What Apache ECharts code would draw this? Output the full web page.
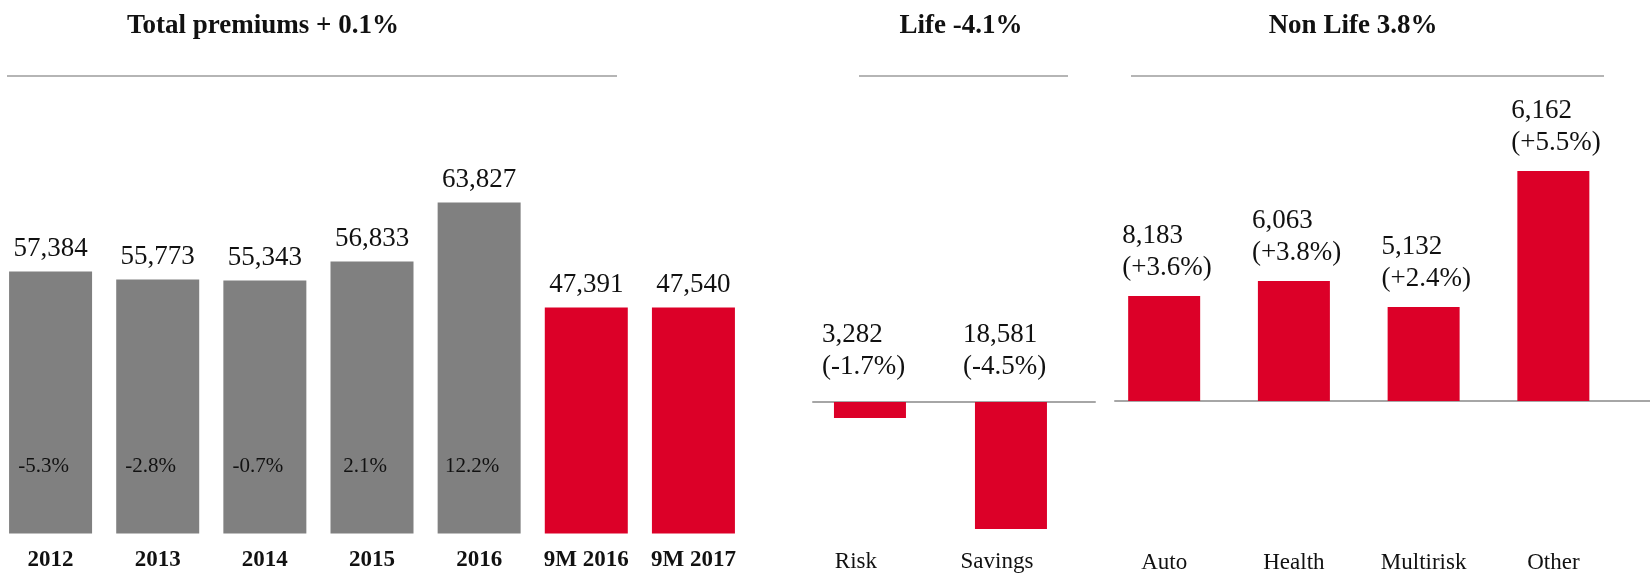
<!DOCTYPE html>
<html>
<head>
<meta charset="utf-8">
<script src="https://cdn.jsdelivr.net/npm/echarts@6/dist/echarts.min.js"></script>
<style>
html, body { margin: 0; padding: 0; background: #fff; }
#chart { width: 1650px; height: 575px; }
</style>
</head>
<body>
<div id="chart"></div>
<script>
const totalYears = ['2012', '2013', '2014', '2015', '2016', '9M 2016', '9M 2017'];
const totalPremiums = [57384, 55773, 55343, 56833, 63827, 47391, 47540];
const totalGrowth = [-5.3, -2.8, -0.7, 2.1, 12.2, null, null];
// bar heights as drawn in the picture (the infographic is not to scale)
const totalBarHeight = [262, 254, 253, 272, 331, 226, 226];

const lifeLines = ['Risk', 'Savings'];
const lifePremiums = [3282, 18581];
const lifeGrowth = [-1.7, -4.5];
const lifeBarHeight = [-16, -127];

const nonLifeLines = ['Auto', 'Health', 'Multirisk', 'Other'];
const nonLifePremiums = [8183, 6063, 5132, 6162];
const nonLifeGrowth = [3.6, 3.8, 2.4, 5.5];
const nonLifeBarHeight = [105, 120, 94, 230];

const GREY = '#808080';
const RED = '#dc0028';
const INK = '#111';
const FONT = '"Liberation Serif", "DejaVu Serif", serif';

function fmt(v) {
    return v.toLocaleString('en-US');
}

function pct(v, sign) {
    return (sign && v > 0 ? '+' : '') + v.toFixed(1) + '%';
}

function twoLines(values, growth) {
    return p => fmt(values[p.dataIndex]) + '\n(' + pct(growth[p.dataIndex], true) + ')';
}

const chart = echarts.init(document.getElementById('chart'));
chart.setOption({
    animation: false,
    textStyle: { fontFamily: FONT, color: INK },
    grid: [
        { left: -3, top: 193.5, width: 750, height: 340, outerBoundsMode: 'none' },
        { left: 813, top: 402, width: 282, height: 140, outerBoundsMode: 'none' },
        { left: 1115, top: 161, width: 535, height: 240, outerBoundsMode: 'none' }
    ],
    xAxis: [
        {
            type: 'category', gridIndex: 0, data: totalYears,
            axisLine: { show: false }, axisTick: { show: false },
            axisLabel: { interval: 0, fontFamily: FONT, fontWeight: 'bold', fontSize: 23, color: INK, margin: 15 }
        },
        {
            // line sits on zero (top of this grid), labels are laid out from the grid bottom
            type: 'value', gridIndex: 1, min: -0.404, max: 1.596,
            splitLine: { show: false }, axisTick: { show: false },
            axisLine: { show: true, lineStyle: { color: '#a6a6a6', width: 2 } },
            axisLabel: {
                customValues: [0, 1], formatter: v => lifeLines[v],
                fontFamily: FONT, fontSize: 23, color: INK, margin: 8, padding: [0, 28, 0, 0]
            }
        },
        {
            type: 'value', gridIndex: 2, min: -0.379, max: 3.745,
            splitLine: { show: false }, axisTick: { show: false },
            axisLine: { show: true, lineStyle: { color: '#a6a6a6', width: 2 } },
            axisLabel: {
                customValues: [0, 1, 2, 3], formatter: v => nonLifeLines[v],
                fontFamily: FONT, fontSize: 23, color: INK, margin: 150
            }
        }
    ],
    yAxis: [
        { type: 'value', gridIndex: 0, min: 0, max: 340, show: false },
        { type: 'value', gridIndex: 1, min: -140, max: 0, show: false },
        { type: 'value', gridIndex: 2, min: 0, max: 240, show: false }
    ],
    series: [
        {
            type: 'bar', xAxisIndex: 0, yAxisIndex: 0,
            data: totalBarHeight, barWidth: 83, barGap: '-100%',
            itemStyle: { color: p => p.name.indexOf('9M') === 0 ? RED : GREY },
            label: {
                show: true, position: 'top', distance: 9,
                fontFamily: FONT, fontSize: 27, color: INK,
                formatter: p => fmt(totalPremiums[p.dataIndex])
            }
        },
        {
            type: 'bar', xAxisIndex: 0, yAxisIndex: 0, silent: true,
            data: totalBarHeight, barWidth: 83, barGap: '-100%',
            itemStyle: { color: 'rgba(0,0,0,0)' },
            label: {
                show: true, position: 'insideBottom', distance: 57, offset: [-7, 0],
                fontFamily: FONT, fontSize: 21, color: INK,
                formatter: p => totalGrowth[p.dataIndex] == null ? '' : pct(totalGrowth[p.dataIndex], false)
            }
        },
        {
            type: 'bar', xAxisIndex: 1, yAxisIndex: 1,
            data: lifeBarHeight.map((h, i) => [i, h]), barWidth: 72,
            itemStyle: { color: RED }
        },
        {
            type: 'scatter', xAxisIndex: 1, yAxisIndex: 1, silent: true,
            data: lifeLines.map((c, i) => [i, 0]), symbolSize: 0,
            itemStyle: { color: '#fff', opacity: 1 },
            label: {
                show: true, position: 'top', distance: 19, align: 'left', offset: [-48, 0],
                fontFamily: FONT, fontSize: 27, lineHeight: 32, color: INK,
                formatter: twoLines(lifePremiums, lifeGrowth)
            }
        },
        {
            type: 'bar', xAxisIndex: 2, yAxisIndex: 2,
            data: nonLifeBarHeight.map((h, i) => [i, h]), barWidth: 72,
            itemStyle: { color: RED },
            label: {
                show: true, position: 'top', distance: 12, align: 'left', offset: [-42, 0],
                fontFamily: FONT, fontSize: 27, lineHeight: 32, color: INK,
                formatter: twoLines(nonLifePremiums, nonLifeGrowth)
            }
        }
    ],
    graphic: [
        { type: 'text', x: 263, y: 26, style: { text: 'Total premiums + 0.1%', font: 'bold 27px ' + FONT, align: 'center', verticalAlign: 'middle', fill: INK } },
        { type: 'text', x: 961, y: 26, style: { text: 'Life -4.1%', font: 'bold 27px ' + FONT, align: 'center', verticalAlign: 'middle', fill: INK } },
        { type: 'text', x: 1353, y: 26, style: { text: 'Non Life 3.8%', font: 'bold 27px ' + FONT, align: 'center', verticalAlign: 'middle', fill: INK } },
        { type: 'line', shape: { x1: 7, y1: 76, x2: 617, y2: 76 }, style: { stroke: '#9d9d9d', lineWidth: 1.5 } },
        { type: 'line', shape: { x1: 859, y1: 76, x2: 1068, y2: 76 }, style: { stroke: '#9d9d9d', lineWidth: 1.5 } },
        { type: 'line', shape: { x1: 1131, y1: 76, x2: 1604, y2: 76 }, style: { stroke: '#9d9d9d', lineWidth: 1.5 } }
    ]
});
</script>
</body>
</html>
